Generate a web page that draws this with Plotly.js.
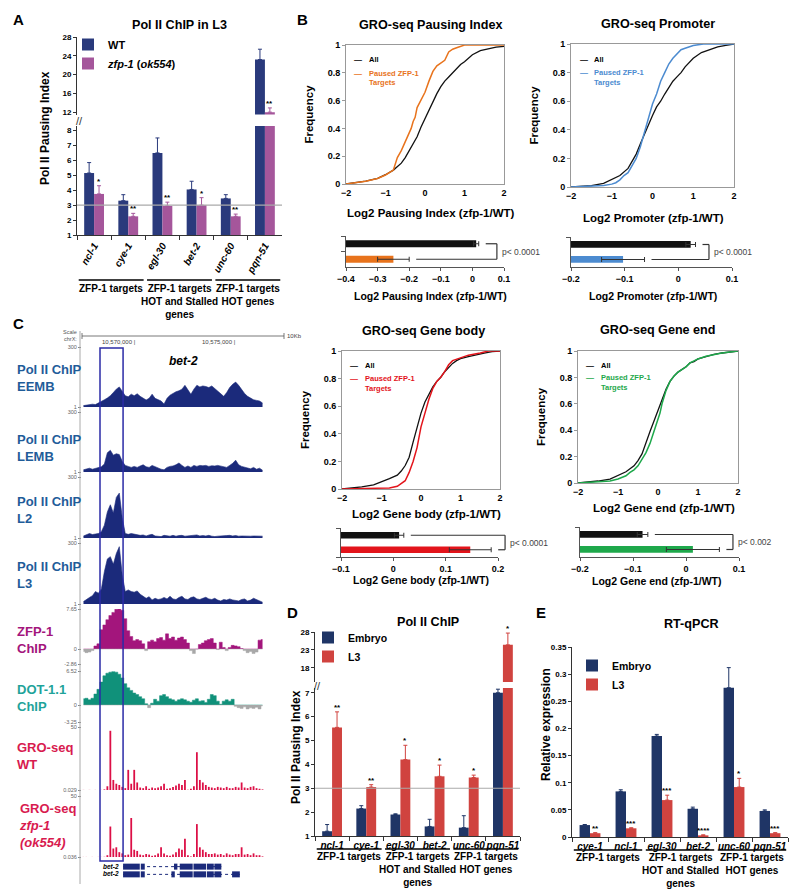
<!DOCTYPE html>
<html>
<head>
<meta charset="utf-8">
<script src="https://cdn.plot.ly/plotly-3.0.1.min.js"></script>
<style>body{margin:0;background:#fff}#fig{width:800px;height:889px}</style>
</head>
<body>
<div id="fig"></div>
<script>
// ---------------- data ----------------

// A: Pol II ChIP in L3
const genesA = ['ncl-1', 'cye-1', 'egl-30', 'bet-2', 'unc-60', 'pqn-51'];
const wtA = [5.15, 3.3, 6.5, 4.05, 3.45, 23.2];
const wtErrA = [0.7, 0.4, 1.0, 0.55, 0.25, 2.2];
const zfpA = [3.75, 2.25, 2.95, 3.0, 2.25, 12.0];
const zfpErrA = [0.55, 0.2, 0.25, 0.5, 0.15, 0.9];
const sigA = ['*', '**', '**', '*', '**', '**'];

// shared gene groups (A, D, E)
const groupLabels = ['ZFP-1 targets', 'ZFP-1 targets<br>HOT and Stalled<br>genes', 'ZFP-1 targets<br>HOT genes'];
const groupSpans = [[0, 1], [2, 3], [4, 5]];

// B: GRO-seq CDFs
const cdfGrid = [-2, -1.5, -1.2, -1, -0.8, -0.6, -0.5, -0.4, -0.3, -0.2, -0.1, 0, 0.1, 0.2, 0.3, 0.4, 0.5, 0.6, 0.7, 0.8, 0.9, 1.0, 1.2, 1.4, 1.6, 1.8, 2];
const piAllY = [0, 0.02, 0.04, 0.067, 0.1, 0.15, 0.19, 0.24, 0.29, 0.34, 0.41, 0.47, 0.53, 0.6, 0.65, 0.7, 0.74, 0.77, 0.8, 0.83, 0.86, 0.88, 0.93, 0.96, 0.975, 0.985, 0.99];
const piTgtX = [-2, -1.5, -1.2, -1, -0.8, -0.75, -0.7, -0.6, -0.5, -0.4, -0.35, -0.3, -0.25, -0.2, -0.1, 0, 0.1, 0.2, 0.3, 0.4, 0.5, 0.6, 0.7, 0.8, 0.9, 1.0, 2];
const piTgtY = [0, 0.02, 0.04, 0.065, 0.1, 0.15, 0.19, 0.24, 0.3, 0.37, 0.4, 0.45, 0.48, 0.55, 0.6, 0.66, 0.74, 0.81, 0.85, 0.87, 0.89, 0.95, 0.97, 0.98, 0.99, 1, 1];
const prAllY = [0, 0.01, 0.025, 0.05, 0.08, 0.13, 0.18, 0.23, 0.3, 0.37, 0.44, 0.5, 0.56, 0.6, 0.65, 0.7, 0.74, 0.77, 0.8, 0.84, 0.87, 0.9, 0.94, 0.96, 0.98, 0.99, 1];
const prTgtX = [-2, -1.5, -1.2, -1, -0.9, -0.8, -0.7, -0.6, -0.5, -0.4, -0.3, -0.2, -0.1, 0, 0.1, 0.2, 0.3, 0.4, 0.5, 0.6, 0.7, 0.8, 1.0, 1.25, 2];
const prTgtY = [0, 0.005, 0.01, 0.02, 0.03, 0.05, 0.08, 0.1, 0.15, 0.2, 0.28, 0.38, 0.47, 0.58, 0.65, 0.74, 0.8, 0.86, 0.9, 0.93, 0.96, 0.97, 0.99, 1, 1];
const gbAllY = [0, 0.015, 0.03, 0.05, 0.075, 0.1, 0.13, 0.17, 0.23, 0.34, 0.45, 0.55, 0.63, 0.69, 0.74, 0.78, 0.81, 0.85, 0.88, 0.91, 0.93, 0.945, 0.96, 0.975, 0.985, 0.995, 1];
const gbTgtX = [-2, -1.5, -1, -0.8, -0.6, -0.5, -0.4, -0.3, -0.2, -0.1, -0.05, 0, 0.1, 0.2, 0.3, 0.4, 0.5, 0.6, 0.7, 0.8, 1.0, 1.2, 1.5, 1.7, 2];
const gbTgtY = [0, 0.002, 0.004, 0.008, 0.02, 0.04, 0.06, 0.12, 0.2, 0.3, 0.38, 0.45, 0.55, 0.65, 0.73, 0.78, 0.81, 0.85, 0.9, 0.93, 0.95, 0.97, 0.985, 1, 1];
const geAllY = [0, 0.015, 0.03, 0.055, 0.085, 0.13, 0.17, 0.22, 0.31, 0.39, 0.47, 0.55, 0.63, 0.71, 0.77, 0.81, 0.84, 0.86, 0.88, 0.91, 0.92, 0.94, 0.96, 0.975, 0.985, 0.993, 1];
const geTgtX = [-2, -1.5, -1.2, -1, -0.8, -0.7, -0.6, -0.5, -0.4, -0.3, -0.2, -0.1, 0, 0.05, 0.1, 0.2, 0.3, 0.4, 0.5, 0.6, 0.7, 0.8, 1.0, 1.2, 1.4, 1.6, 1.8, 2];
const geTgtY = [0, 0.008, 0.015, 0.03, 0.055, 0.08, 0.1, 0.13, 0.18, 0.23, 0.3, 0.39, 0.48, 0.53, 0.6, 0.7, 0.77, 0.81, 0.84, 0.86, 0.88, 0.91, 0.94, 0.96, 0.975, 0.985, 0.993, 1];
const cdfTitles = ['Log2 Pausing Index (zfp-1/WT)', 'Log2 Promoter (zfp-1/WT)', 'Log2 Gene body (zfp-1/WT)', 'Log2 Gene end (zfp-1/WT)'];

// B: mean log2 change bars (row 0 = paused ZFP-1 targets, row 1 = all)
const barRows = ['Paused ZFP-1 Targets', 'All'];
const piBar = [-0.25, 0.012], piBarErr = [0.05, 0.008];
const prBar = [-0.103, 0.023], prBarErr = [0.04, 0.009];
const gbBar = [0.147, 0.011], gbBarErr = [0.04, 0.009];
const geBar = [0.013, -0.082], geBarErr = [0.05, 0.01];
const pValues = ['p< 0.0001', 'p< 0.0001', 'p< 0.0001', 'p< 0.002'];

// C: genome browser, bet-2 locus (chrX), 150 bp bins
const binStart = 10567250, binSize = 150, binCount = 61;
const eembSig = [8, 11, 13, 15, 13, 20, 28, 37, 46, 57, 73, 90, 101, 77, 57, 52, 65, 57, 67, 54,
  44, 36, 44, 65, 44, 36, 31, 16, 44, 60, 70, 77, 82, 90, 109, 86, 64, 90, 109, 101,
  106, 103, 98, 106, 93, 77, 68, 54, 73, 98, 114, 125, 109, 86, 68, 54, 44, 37, 34, 31, 21];
const lembSig = [12, 17, 20, 15, 20, 24, 27, 41, 97, 109, 85, 92, 88, 54, 34, 29, 24, 29, 24, 31,
  37, 27, 24, 34, 27, 20, 15, 12, 24, 29, 31, 37, 46, 34, 24, 31, 24, 34, 29, 34,
  32, 34, 29, 32, 31, 34, 31, 27, 24, 34, 44, 60, 37, 29, 24, 20, 17, 24, 15, 20, 10];
const l2Sig = [11, 19, 23, 18, 19, 23, 32, 64, 129, 164, 124, 200, 221, 100, 23, 19, 23, 19, 18, 14,
  16, 11, 16, 19, 11, 10, 8, 14, 13, 10, 14, 10, 13, 14, 10, 11, 14, 13, 16, 11,
  13, 11, 14, 10, 8, 10, 10, 11, 13, 14, 11, 13, 10, 11, 10, 11, 10, 11, 11, 10, 10];
const l3Sig = [13, 21, 33, 42, 62, 54, 75, 160, 222, 233, 196, 248, 282, 143, 62, 70, 62, 59, 65, 49,
  37, 29, 37, 21, 29, 23, 26, 33, 26, 39, 26, 23, 33, 39, 26, 23, 33, 36, 26, 23,
  29, 34, 26, 23, 29, 20, 16, 23, 20, 26, 21, 20, 16, 23, 26, 16, 20, 29, 23, 16, 10];
const zfpChip = [-0.46, -0.69, -0.58, -0.29, 0.58, 1.0, 3.7, 4.6, 5.6, 6.4, 7.0, 7.6, 7.8, 7.4, 5.8, 3.5, 2.4, 1.6, 1.8, 1.6,
  1.0, -0.3, 1.4, 1.7, 1.4, 2.0, 2.2, 1.7, 2.9, 2.0, 2.3, 1.7, 2.1, 2.3, 1.8, 1.15, -0.3, -0.86, 0, 0.86,
  1.15, 1.6, 1.8, 2.0, 1.15, -0.1, 1.3, 0.3, -0.3, 0.3, 0.7, 0.6, 0.46, 0.1, -0.3, -0.7, -0.46, -0.86, -0.58, 1.7, 1.8];
const dotChip = [1.2, 1.3, 1.0, 1.3, 2.1, 3.0, 4.4, 5.6, 6.1, 6.3, 6.4, 6.3, 5.9, 5.2, 4.1, 3.3, 2.8, 2.3, 2.0, 1.6,
  1.2, 0.25, -0.5, 0.35, 1.1, 0.74, 1.8, 2.0, 1.6, 1.2, 1.0, 0.74, 1.0, 1.2, 1.0, 0.74, 0.54, 0.94, 1.2, 0.74,
  0.84, 0.5, 1.1, 2.0, 1.8, 0.74, 0.15, 0.74, 1.0, 0.74, 1.1, -0.25, -0.5, -0.64, -0.35, -0.74, -0.54, -0.64, -0.44, -0.74, -0.15];
const groWt = [0.1, 0, 0.1, 0, 0.1, 0, 0.1, 0.5, 3, 47, 8, 5, 4, 2.5, 1.5, 16, 5, 16, 6, 2,
  1.5, 3, 1, 2, 1.5, 2, 3, 5, 1, 1.5, 2.5, 3.5, 5, 4, 8, 0.2, 1, 3, 30, 8,
  6, 4, 2.5, 2, 1.5, 2.5, 2, 1.5, 2.5, 1.5, 1.5, 2.5, 2, 6, 2, 1.5, 2.5, 3, 1.5, 1, 0.5];
const groZfp = [0.1, 0.1, 0, 0.1, 0, 0.1, 0.1, 0.2, 1.5, 25, 7, 8, 4, 3, 1.5, 2, 32, 6, 5, 2,
  1.5, 2.5, 2, 1, 1.5, 3, 8, 3, 1.5, 1, 2, 4, 7, 6, 15, 1.5, 0.5, 2.5, 27, 8,
  6, 4, 2.5, 2.5, 3, 2, 2.5, 1.5, 3, 2, 1.5, 2.5, 2.5, 8, 2, 2.5, 1.5, 3, 1.5, 1.5, 0.5];
const trackLabels = ['Pol II ChIP<br>EEMB', 'Pol II ChIP<br>LEMB', 'Pol II ChIP<br>L2', 'Pol II ChIP<br>L3',
  'ZFP-1<br>ChIP', 'DOT-1.1<br>ChIP', 'GRO-seq<br>WT', 'GRO-seq<br><i>zfp-1</i><br><i>(ok554)</i>'];
const exonsT1 = [[10569240, 10570080], [10570130, 10570330], [10571800, 10571970], [10572090, 10572740],
  [10572780, 10573410], [10573450, 10573800], [10573830, 10574180]];
const exonsT2 = [[10569240, 10570080], [10570130, 10570330], [10571670, 10571840], [10572090, 10572740],
  [10572780, 10573410], [10573450, 10573800], [10573830, 10574180], [10574720, 10575110]];
const highlightRegion = [10568080, 10569240];
const coordTicks = [10570000, 10575000];
const coordLabels = ['10,570,000 |', '10,575,000 |'];

// D: Pol II ChIP, embryo vs L3
const genesD = ['ncl-1', 'cye-1', 'egl-30', 'bet-2', 'unc-60', 'pqn-51'];
const embD = [1.2, 2.15, 1.9, 1.4, 1.35, 7.0];
const embErrD = [0.28, 0.12, 0.03, 0.3, 0.5, 0.15];
const l3D = [5.55, 3.05, 4.2, 3.5, 3.45, 24.4];
const l3ErrD = [0.65, 0.1, 0.6, 0.47, 0.1, 3.3];
const sigD = ['**', '**', '*', '*', '*', '*'];

// E: RT-qPCR
const genesE = ['cye-1', 'ncl-1', 'egl-30', 'bet-2', 'unc-60', 'pqn-51'];
const embE = [0.022, 0.084, 0.186, 0.052, 0.275, 0.048];
const embErrE = [0.001, 0.003, 0.003, 0.003, 0.037, 0.002];
const l3E = [0.007, 0.016, 0.068, 0.003, 0.092, 0.007];
const l3ErrE = [0.001, 0.001, 0.009, 0.001, 0.016, 0.001];
const sigE = ['**', '***', '***', '****', '*', '***'];

// ---------------- helpers ----------------
const FONT = 'Liberation Sans, Arial, Helvetica, sans-serif';
const W = 800, H = 889;
function xd(l, r) { return [l / W, r / W]; }
function yd(t, b) { return [1 - b / H, 1 - t / H]; }
function px(v) { return v / W; }
function py(v) { return 1 - v / H; }

const C_WT = '#2A3A7C', C_ZFP = '#A5569B';
const C_EMB = '#1F3566', C_L3 = '#D0433F';
const C_POL = '#1B2A7B';

function errUp(arr, color) {
  return { type: 'data', symmetric: false, array: arr, arrayminus: arr.map(() => 0), color: color, thickness: 1, width: 2 };
}
function above(vals, cut) { return vals.map(v => v > cut ? v : null); }
function aboveErr(vals, errs, cut) { return errs.map((e, i) => vals[i] > cut ? e : null); }

function barXAxis(domain, anchor, angle) {
  return {
    domain: domain, anchor: anchor, type: 'category', showline: true, linecolor: '#333',
    ticks: 'outside', tickson: 'boundaries', ticklen: 4, tickcolor: '#333', tickangle: angle,
    tickfont: { size: 10, weight: 'bold', style: 'italic' }, showgrid: false, zeroline: false
  };
}
function barYAxis(domain, anchor, range, tickvals) {
  return {
    domain: domain, anchor: anchor, range: range, tickvals: tickvals, showline: true, linecolor: '#333',
    ticks: 'outside', ticklen: 3, tickcolor: '#333', tickfont: { size: 8, weight: 'bold' },
    showgrid: false, zeroline: false
  };
}
function cdfX(domain, anchor) {
  return {
    domain: domain, anchor: anchor, range: [-2, 2], dtick: 1, showline: true, mirror: true, linecolor: '#999',
    ticks: '', tickfont: { size: 9, weight: 'bold' }, showgrid: false, zeroline: false
  };
}
function cdfY(domain, anchor) {
  return {
    domain: domain, anchor: anchor, range: [0, 1], dtick: 0.2, showline: true, mirror: true, linecolor: '#999',
    ticks: 'outside', ticklen: 3, tickcolor: '#999', tickfont: { size: 9, weight: 'bold' },
    showgrid: false, zeroline: false, title: { text: 'Frequency', font: { size: 11.5, weight: 'bold' } }
  };
}
function smallX(domain, anchor, range) {
  return {
    domain: domain, anchor: anchor, range: range, dtick: 0.1, showline: true, linecolor: '#555',
    ticks: 'outside', ticklen: 3, tickcolor: '#555', tickfont: { size: 9, weight: 'bold' },
    showgrid: false, zeroline: false
  };
}
function smallY(domain, anchor) {
  return {
    domain: domain, anchor: anchor, type: 'category', range: [-0.5, 1.5], showline: true, linecolor: '#555',
    ticks: 'outside', tickson: 'boundaries', ticklen: 4, tickcolor: '#555', showticklabels: false,
    showgrid: false, zeroline: false
  };
}
function trackY(top, bottom, range, tickvals, ticktext) {
  return {
    domain: yd(top, bottom), anchor: 'x11', range: range, tickvals: tickvals, ticktext: ticktext,
    showgrid: false, zeroline: false, showline: false, ticks: 'outside', ticklen: 3, tickcolor: '#888',
    tickfont: { size: 5.5, color: '#666' }
  };
}

const data = [];
const annotations = [];
const shapes = [];

// text placed on the page in pixels, centred unless told otherwise
function note(text, x, y, font, extra) {
  annotations.push(Object.assign({ xref: 'paper', yref: 'paper', x: px(x), y: py(y), xanchor: 'center', yanchor: 'middle',
    text: text, showarrow: false, font: font }, extra || {}));
}

// ---------------- A ----------------
const cutA = 8.3;
data.push({ type: 'bar', x: genesA, y: wtA, xaxis: 'x', yaxis: 'y', name: '<b>WT</b>', legend: 'legend',
  marker: { color: C_WT }, error_y: errUp(wtErrA, C_WT) });
data.push({ type: 'bar', x: genesA, y: zfpA, xaxis: 'x', yaxis: 'y', name: '<b><i>zfp-1</i> (<i>ok554</i>)</b>', legend: 'legend',
  marker: { color: C_ZFP }, error_y: errUp(zfpErrA, C_ZFP) });
data.push({ type: 'bar', x: genesA, y: above(wtA, cutA), xaxis: 'x', yaxis: 'y2', showlegend: false,
  marker: { color: C_WT }, error_y: errUp(aboveErr(wtA, wtErrA, cutA), C_WT) });
data.push({ type: 'bar', x: genesA, y: above(zfpA, cutA), xaxis: 'x', yaxis: 'y2', showlegend: false,
  marker: { color: C_ZFP }, error_y: errUp(aboveErr(zfpA, zfpErrA, cutA), C_ZFP) });

// ---------------- B ----------------
const cdfAll = [piAllY, prAllY, gbAllY, geAllY];
const cdfTgtX = [piTgtX, prTgtX, gbTgtX, geTgtX];
const cdfTgtY = [piTgtY, prTgtY, gbTgtY, geTgtY];
const cdfColors = ['#E8731C', '#4C8BD0', '#E3141B', '#1EA84B'];
// x-axis title positions (px): CDF plots, then the small bar plots
const cdfTitlePos = [[431, 213], [653, 218], [426, 514], [664, 508]];
const smallTitlePos = [[431, 296], [653, 296], [421, 580], [657, 581]];
for (let k = 0; k < 4; k++) {
  const xa = 'x' + (3 + k), ya = 'y' + (3 + k);
  data.push({ type: 'scatter', mode: 'lines', x: cdfGrid, y: cdfAll[k], xaxis: xa, yaxis: ya, showlegend: false,
    line: { color: '#111', width: 1.3 } });
  data.push({ type: 'scatter', mode: 'lines', x: cdfTgtX[k], y: cdfTgtY[k], xaxis: xa, yaxis: ya, showlegend: false,
    line: { color: cdfColors[k], width: 1.5 } });
  // inline legend
  const c = cdfColors[k];
  annotations.push({ xref: xa + ' domain', yref: ya + ' domain', x: 0.04, y: 0.94, xanchor: 'left', text: '<b>—</b>', showarrow: false, font: { size: 8, color: '#000' } });
  annotations.push({ xref: xa + ' domain', yref: ya + ' domain', x: 0.13, y: 0.94, xanchor: 'left', text: '<b>All</b>', showarrow: false, font: { size: 7.5, color: '#000' } });
  annotations.push({ xref: xa + ' domain', yref: ya + ' domain', x: 0.04, y: 0.845, xanchor: 'left', text: '<b>—</b>', showarrow: false, font: { size: 8, color: c } });
  annotations.push({ xref: xa + ' domain', yref: ya + ' domain', x: 0.13, y: 0.845, xanchor: 'left', text: '<b>Paused ZFP-1</b>', showarrow: false, font: { size: 7.5, color: c } });
  annotations.push({ xref: xa + ' domain', yref: ya + ' domain', x: 0.13, y: 0.775, xanchor: 'left', text: '<b>Targets</b>', showarrow: false, font: { size: 7.5, color: c } });
  note(cdfTitles[k], cdfTitlePos[k][0], cdfTitlePos[k][1], { size: 11.5, weight: 'bold' });
  note(cdfTitles[k], smallTitlePos[k][0], smallTitlePos[k][1], { size: 10.5, weight: 'bold' });
}

const smallVals = [piBar, prBar, gbBar, geBar];
const smallErrs = [piBarErr, prBarErr, gbBarErr, geBarErr];
const smallRanges = [[-0.4, 0.1], [-0.2, 0.1], [-0.1, 0.2], [-0.2, 0.1]];
const smallWidthPx = [158, 161, 157, 159];
const bracketPos = [0.955, 0.857, 1.045, 0.962];
for (let k = 0; k < 4; k++) {
  const xa = 'x' + (7 + k), ya = 'y' + (7 + k);
  const r = smallRanges[k];
  data.push({ type: 'bar', orientation: 'h', y: barRows, x: smallVals[k].map(v => v - r[0]), base: r[0],
    width: 0.45, xaxis: xa, yaxis: ya, showlegend: false,
    marker: { color: [cdfColors[k], '#111'] },
    error_x: { type: 'data', array: smallErrs[k], color: '#333', thickness: 1, width: 2.5 } });
  // significance bracket
  const toDom = v => (v - r[0]) / (r[1] - r[0]);
  const gap = 7 / smallWidthPx[k];
  const allEnd = toDom(smallVals[k][1] + smallErrs[k][1]) + gap;
  const tgtEnd = toDom(smallVals[k][0] + smallErrs[k][0]) + gap;
  const bx = bracketPos[k];
  const ln = { color: '#333', width: 1.2 };
  shapes.push({ type: 'line', xref: xa + ' domain', yref: ya, x0: allEnd, x1: bx, y0: 1, y1: 1, line: ln });
  shapes.push({ type: 'line', xref: xa + ' domain', yref: ya, x0: bx, x1: bx, y0: 1, y1: 0, line: ln });
  shapes.push({ type: 'line', xref: xa + ' domain', yref: ya, x0: tgtEnd, x1: bx, y0: 0, y1: 0, line: ln });
  annotations.push({ xref: xa + ' domain', yref: ya, x: bx + 0.02, y: 0.5, xanchor: 'left', text: pValues[k],
    showarrow: false, font: { size: 8.5, color: '#444' } });
}

// ---------------- C ----------------
const binPos = Array.from({ length: binCount }, (_, i) => binStart + i * binSize);
const polTracks = [eembSig, lembSig, l2Sig, l3Sig];
polTracks.forEach((sig, k) => {
  data.push({ type: 'scatter', mode: 'lines', x: binPos, y: sig, xaxis: 'x11', yaxis: 'y' + (11 + k), showlegend: false,
    fill: 'tozeroy', fillcolor: C_POL, line: { color: C_POL, width: 0.6 } });
});
const signedTracks = [[zfpChip, '#A3157C', 'y15'], [dotChip, '#10917A', 'y16']];
signedTracks.forEach(t => {
  data.push({ type: 'scatter', mode: 'lines', x: binPos, y: t[0].map(v => Math.max(v, 0)), xaxis: 'x11', yaxis: t[2],
    showlegend: false, fill: 'tozeroy', fillcolor: t[1], line: { color: t[1], width: 0.5, shape: 'hvh' } });
  data.push({ type: 'scatter', mode: 'lines', x: binPos, y: t[0].map(v => Math.min(v, 0)), xaxis: 'x11', yaxis: t[2],
    showlegend: false, fill: 'tozeroy', fillcolor: '#A8A8A8', line: { color: '#A8A8A8', width: 0.5, shape: 'hvh' } });
});
// GRO-seq reads as thin spikes
[[groWt, 'y17'], [groZfp, 'y18']].forEach(t => {
  data.push({ type: 'bar', x: binPos, y: t[0], xaxis: 'x11', yaxis: t[1], showlegend: false,
    width: binSize * 0.6, marker: { color: '#DC0F46', line: { width: 0 } } });
});
// gene models
[[exonsT1, 0], [exonsT2, -1]].forEach(t => {
  const ex = t[0], row = t[1];
  data.push({ type: 'scatter', mode: 'lines', x: [ex[0][0], ex[ex.length - 1][1]], y: [row, row], xaxis: 'x11', yaxis: 'y19',
    showlegend: false, line: { color: C_POL, width: 1, dash: 'dot' } });
  const xs = [], ys = [];
  ex.forEach(e => { xs.push(e[0], e[1], null); ys.push(row, row, null); });
  data.push({ type: 'scatter', mode: 'lines', x: xs, y: ys, xaxis: 'x11', yaxis: 'y19', showlegend: false,
    line: { color: C_POL, width: 6 } });
});
const trackLabelY = [378, 448, 510, 575, 640, 698, 756, 825];
const trackLabelColor = ['#1F5C99', '#1F5C99', '#1F5C99', '#1F5C99', '#A3157C', '#1FA39A', '#D81B4F', '#D81B4F'];
trackLabels.forEach((t, k) => {
  note('<b>' + t + '</b>', k === 7 ? 17 : 15, trackLabelY[k], { size: 13, color: trackLabelColor[k] }, { xanchor: 'left', align: 'left' });
});
coordTicks.forEach((v, i) => {
  annotations.push({ xref: 'x11', yref: 'paper', x: v, y: py(342), xanchor: 'right', text: coordLabels[i], showarrow: false,
    font: { size: 6, color: '#444' } });
});
note('Scale', 79, 332, { size: 5.5, color: '#555' }, { xanchor: 'right' });
note('chrX:', 79, 339, { size: 5.5, color: '#555' }, { xanchor: 'right' });
note('10Kb', 285, 336, { size: 6, color: '#444' }, { xanchor: 'left' });
note('<b><i>bet-2</i></b>', 183, 361, { size: 12 });
note('<b><i>bet-2</i></b>', 121, 866, { size: 6.5 }, { xanchor: 'right' });
note('<b><i>bet-2</i></b>', 121, 873, { size: 6.5 }, { xanchor: 'right' });
shapes.push({ type: 'line', xref: 'paper', yref: 'paper', x0: px(82), x1: px(284), y0: py(336), y1: py(336), line: { color: '#555', width: 0.8 } });
shapes.push({ type: 'line', xref: 'paper', yref: 'paper', x0: px(82), x1: px(82), y0: py(333), y1: py(339), line: { color: '#555', width: 0.8 } });
shapes.push({ type: 'line', xref: 'paper', yref: 'paper', x0: px(284), x1: px(284), y0: py(333), y1: py(339), line: { color: '#555', width: 0.8 } });
shapes.push({ type: 'line', xref: 'paper', yref: 'paper', x0: px(80), x1: px(80), y0: py(331), y1: py(884), line: { color: '#AAA', width: 1 } });
shapes.push({ type: 'rect', xref: 'x11', yref: 'paper', x0: highlightRegion[0], x1: highlightRegion[1], y0: py(861), y1: py(348),
  line: { color: '#2B2BA6', width: 1.5 } });

// ---------------- D ----------------
const cutD = 7.2;
data.push({ type: 'bar', x: genesD, y: embD, xaxis: 'x12', yaxis: 'y20', name: '<b>Embryo</b>', legend: 'legend2',
  marker: { color: C_EMB }, error_y: errUp(embErrD, C_EMB) });
data.push({ type: 'bar', x: genesD, y: l3D, xaxis: 'x12', yaxis: 'y20', name: '<b>L3</b>', legend: 'legend2',
  marker: { color: C_L3 }, error_y: errUp(l3ErrD, C_L3) });
data.push({ type: 'bar', x: genesD, y: above(embD, cutD), xaxis: 'x12', yaxis: 'y21', showlegend: false,
  marker: { color: C_EMB }, error_y: errUp(aboveErr(embD, embErrD, cutD), C_EMB) });
data.push({ type: 'bar', x: genesD, y: above(l3D, cutD), xaxis: 'x12', yaxis: 'y21', showlegend: false,
  marker: { color: C_L3 }, error_y: errUp(aboveErr(l3D, l3ErrD, cutD), C_L3) });

// ---------------- E ----------------
data.push({ type: 'bar', x: genesE, y: embE, xaxis: 'x13', yaxis: 'y22', name: '<b>Embryo</b>', legend: 'legend3',
  marker: { color: C_EMB }, error_y: errUp(embErrE, C_EMB) });
data.push({ type: 'bar', x: genesE, y: l3E, xaxis: 'x13', yaxis: 'y22', name: '<b>L3</b>', legend: 'legend3',
  marker: { color: C_L3 }, error_y: errUp(l3ErrE, C_L3) });

// significance stars above the second bar of each pair
function stars(sig, vals, errs, xa, yLow, yUp, cut) {
  sig.forEach((s, i) => {
    const top = vals[i] + errs[i];
    annotations.push({ xref: xa, yref: top > cut ? yUp : yLow, x: i + 0.145, y: top, yanchor: 'bottom', yshift: -2,
      text: s, showarrow: false, font: { size: 8, weight: 'bold' } });
  });
}
stars(sigA, zfpA, zfpErrA, 'x', 'y', 'y2', cutA);
stars(sigD, l3D, l3ErrD, 'x12', 'y20', 'y21', cutD);
stars(sigE, l3E, l3ErrE, 'x13', 'y22', 'y22', Infinity);

// gene group underlines + labels
function groups(xa, lineY, textY) {
  groupSpans.forEach((s, g) => {
    shapes.push({ type: 'line', xref: xa, yref: 'paper', x0: s[0] - 0.45, x1: s[1] + 0.45, y0: py(lineY), y1: py(lineY),
      line: { color: '#000', width: 1.5 } });
    annotations.push({ xref: xa, yref: 'paper', x: (s[0] + s[1]) / 2, y: py(textY), xanchor: 'center', yanchor: 'top', align: 'center',
      text: '<b>' + groupLabels[g] + '</b>', showarrow: false, font: { size: 10 } });
  });
}
groups('x', 280, 281);
groups('x12', 849, 849);
groups('x13', 850, 850);

// threshold line at pausing index 3
const pausingCut = 3;
shapes.push({ type: 'line', xref: 'x domain', yref: 'y', x0: 0, x1: 1, y0: pausingCut, y1: pausingCut, line: { color: '#AAA', width: 1.2 } });
shapes.push({ type: 'line', xref: 'x12 domain', yref: 'y20', x0: 0, x1: 1, y0: pausingCut, y1: pausingCut, line: { color: '#AAA', width: 1.2 } });

// titles, panel letters, y titles, axis breaks
const titleFont = { size: 12.6, weight: 'bold' };
[['Pol II ChIP in L3', 179, 25], ['GRO-seq Pausing Index', 431, 25], ['GRO-seq Promoter', 658, 24],
 ['GRO-seq Gene body', 423, 331], ['GRO-seq Gene end', 657, 330], ['Pol II ChIP', 428, 622], ['RT-qPCR', 691, 624]]
  .forEach(t => note(t[0], t[1], t[2], titleFont));
[['A', 18, 20], ['B', 302, 20], ['C', 18, 323], ['D', 292, 612], ['E', 541, 612]]
  .forEach(t => note('<b>' + t[0] + '</b>', t[1], t[2], { size: 15 }));
[['Pol II Pausing Index', 45, 128], ['Pol II Pausing Index', 296, 747], ['Relative expression', 546, 725]]
  .forEach(t => note(t[0], t[1], t[2], { size: 12, weight: 'bold' }, { textangle: -90 }));
[[79, 121], [317, 686]].forEach(t => note('//', t[0], t[1], { size: 11, color: '#333' }));

// ---------------- layout ----------------
const legendBase = { xanchor: 'left', yanchor: 'top', bgcolor: 'rgba(0,0,0,0)', itemwidth: 30, tracegroupgap: 0 };
const layout = {
  width: W, height: H, margin: { l: 0, r: 0, t: 0, b: 0 },
  paper_bgcolor: '#fff', plot_bgcolor: 'rgba(0,0,0,0)',
  font: { family: FONT, size: 10, color: '#000' },
  barmode: 'group', bargap: 0.42, bargroupgap: 0,
  legend: Object.assign({ x: px(68), y: py(30), font: { size: 11 } }, legendBase),
  legend2: Object.assign({ x: px(308), y: py(623), font: { size: 10.5 } }, legendBase),
  legend3: Object.assign({ x: px(572), y: py(651), font: { size: 10.5 } }, legendBase),

  // A
  xaxis: barXAxis(xd(77, 282), 'y', -60),
  yaxis: barYAxis(yd(126, 235), 'x', [1, cutA], [1, 2, 3, 4, 5, 6, 7, 8]),
  yaxis2: barYAxis(yd(37, 114.5), 'x', [11.5, 28], [12, 16, 20, 24, 28]),

  // B CDFs
  xaxis3: cdfX(xd(346, 504), 'y3'),
  yaxis3: cdfY(yd(45, 184), 'x3'),
  xaxis4: cdfX(xd(571, 734), 'y4'),
  yaxis4: cdfY(yd(44, 187), 'x4'),
  xaxis5: cdfX(xd(342, 500), 'y5'),
  yaxis5: cdfY(yd(351, 489), 'x5'),
  xaxis6: cdfX(xd(578, 738), 'y6'),
  yaxis6: cdfY(yd(351, 483), 'x6'),

  // B small bars
  xaxis7: smallX(xd(346, 504), 'y7', smallRanges[0]),
  yaxis7: smallY(yd(236, 267), 'x7'),
  xaxis8: smallX(xd(571, 732), 'y8', smallRanges[1]),
  yaxis8: smallY(yd(237, 267), 'x8'),
  xaxis9: smallX(xd(341, 498), 'y9', smallRanges[2]),
  yaxis9: smallY(yd(528, 557), 'x9'),
  xaxis10: smallX(xd(580, 739), 'y10', smallRanges[3]),
  yaxis10: smallY(yd(527, 557), 'x10'),

  // C tracks
  xaxis11: { domain: xd(82, 264), anchor: 'y18', range: [10567175, 10576325], visible: false },
  yaxis11: trackY(347, 407, [1, 300], [1, 300], ['1', '300']),
  yaxis12: trackY(412, 472, [1, 300], [1, 300], ['1', '300']),
  yaxis13: trackY(477, 538, [1, 300], [1, 300], ['1', '300']),
  yaxis14: trackY(543, 604, [1, 300], [1, 300], ['1', '300']),
  yaxis15: trackY(609, 664, [-2.86, 7.65], [-2.86, 0, 7.65], ['-2.86', '0', '7.65']),
  yaxis16: trackY(671, 722, [-3.25, 6.52], [-3.25, 0, 6.52], ['-3.25', '0', '6.52']),
  yaxis17: trackY(727, 790, [0.029, 50], [0.029, 50], ['0.029', '50']),
  yaxis18: trackY(796, 857, [0.036, 50], [0.036, 50], ['0.036', '50']),
  yaxis19: { domain: yd(862, 879), anchor: 'x11', range: [-1.6, 0.6], visible: false },

  // D
  xaxis12: barXAxis(xd(315, 520), 'y20', 0),
  yaxis20: barYAxis(yd(688, 836), 'x12', [1, cutD], [1, 2, 3, 4, 5, 6, 7]),
  yaxis21: barYAxis(yd(632, 682), 'x12', [14, 28], [18, 23, 28]),

  // E
  xaxis13: barXAxis(xd(572, 788), 'y22', 0),
  yaxis22: barYAxis(yd(647, 837), 'x13', [0, 0.35], [0, 0.05, 0.1, 0.15, 0.2, 0.25, 0.3, 0.35]),

  annotations: annotations,
  shapes: shapes
};

Plotly.newPlot('fig', data, layout, { staticPlot: true });
</script>
</body>
</html>
